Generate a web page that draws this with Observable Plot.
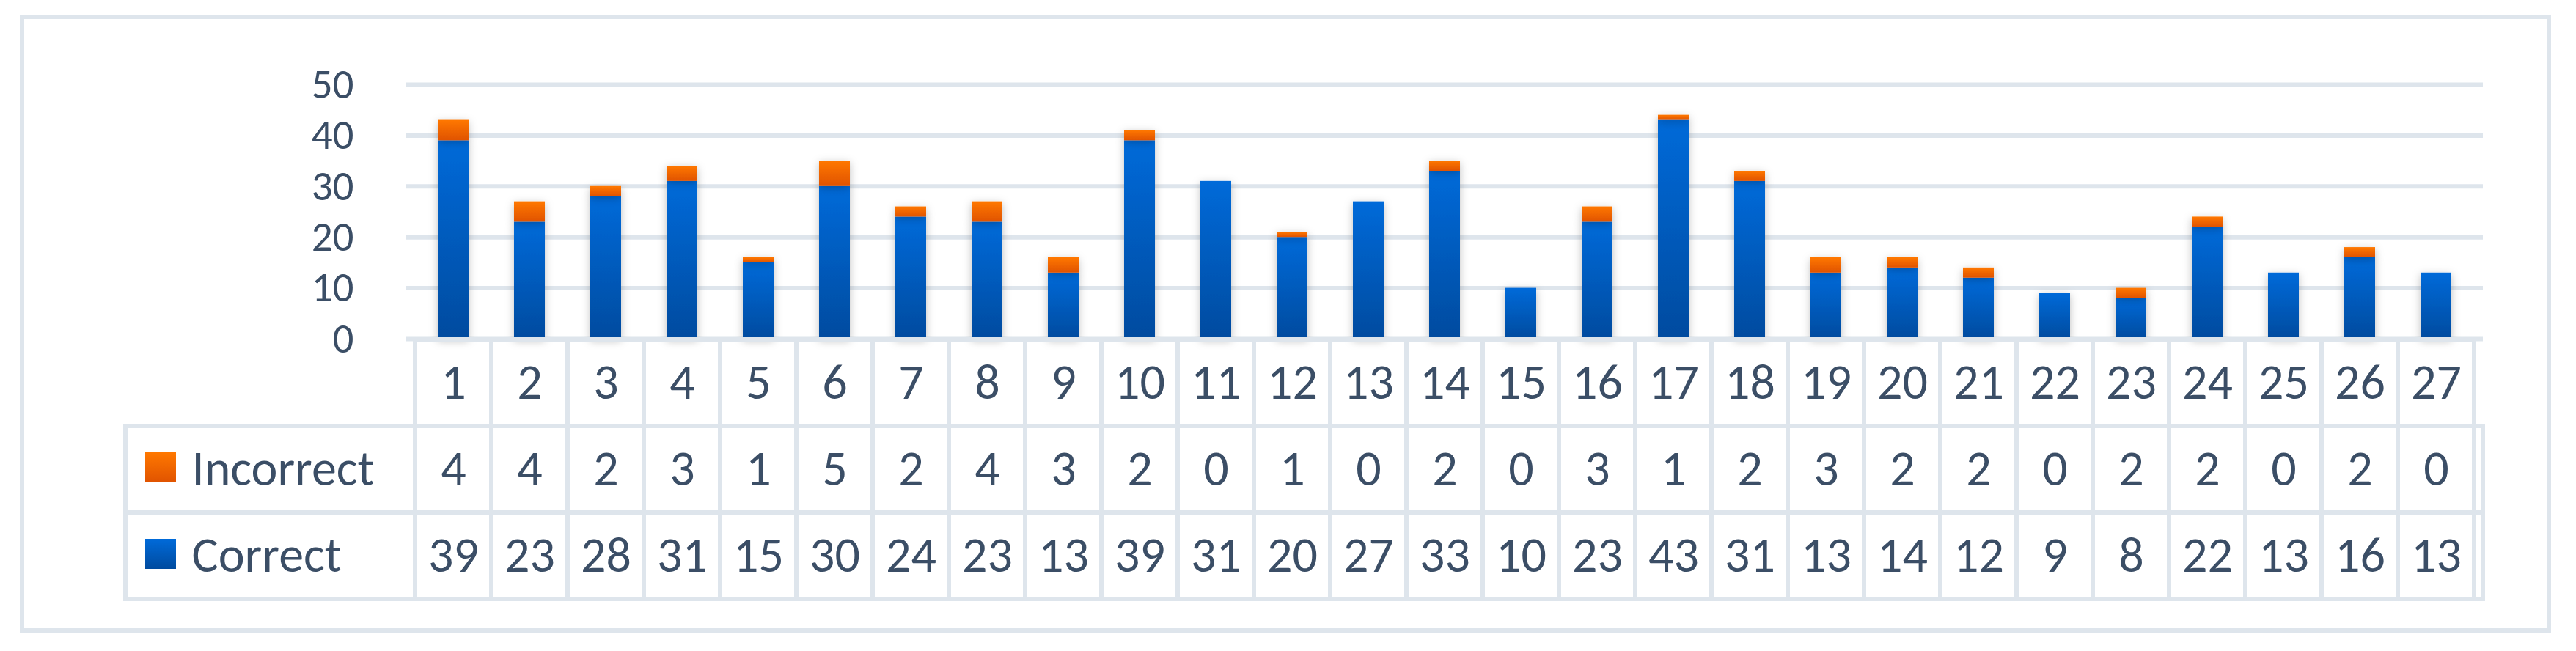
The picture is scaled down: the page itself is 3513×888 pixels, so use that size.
<!DOCTYPE html>
<html>
<head>
<meta charset="utf-8">
<script src="https://cdn.jsdelivr.net/npm/d3@7"></script>
<script src="https://cdn.jsdelivr.net/npm/@observablehq/plot@0.6"></script>
<style>
  html, body { margin: 0; padding: 0; background: #ffffff; }
  #wrap { position: relative; width: 3513px; height: 888px; overflow: hidden; background: #ffffff; }
  #wrap svg { position: absolute; left: 0; top: 0; }
  #frame { position: absolute; left: 27px; top: 20px; width: 3452px; height: 843px; box-sizing: border-box; border: 6px solid #dee5ec; }
</style>
</head>
<body>
<div id="wrap"><div id="frame"></div></div>
<script>
// ---- data ----
const questions = ["1","2","3","4","5","6","7","8","9","10","11","12","13","14","15","16","17","18","19","20","21","22","23","24","25","26","27"];
const correct   = [39,23,28,31,15,30,24,23,13,39,31,20,27,33,10,23,43,31,13,14,12,9,8,22,13,16,13];
const incorrect = [4,4,2,3,1,5,2,4,3,2,0,1,0,2,0,3,1,2,3,2,2,0,2,2,0,2,0];
const yTicks = [0,10,20,30,40,50];
const seriesNames = ["Incorrect","Correct"];
const headerRow = "n";

// ---- styling ----
const FONT = "Carlito, Lato, 'Noto Sans', sans-serif";
const TEXT = "#3b4e66";
const GRID = "#dee5ec";
const FS_TICK = 57;
const FS = 68;

const rows = questions.map((q, i) => ({q, correct: correct[i], incorrect: incorrect[i]}));
const cells = [];
questions.forEach((q, i) => {
  cells.push({q, row: headerRow, label: q});
  cells.push({q, row: "Incorrect", label: String(incorrect[i])});
  cells.push({q, row: "Correct", label: String(correct[i])});
});

const W = 3513, H = 888;
const mL = 554, mR = 127;

// ---- bar chart ----
const chart = Plot.plot({
  width: W, height: H,
  marginTop: 115, marginBottom: 426, marginLeft: mL, marginRight: mR,
  style: `background: transparent; font-family: ${FONT}; font-size: ${FS_TICK}px; color: ${TEXT};`,
  x: {type: "band", domain: questions, paddingInner: 0.6, paddingOuter: 0.3, axis: null},
  y: {domain: [0, 50], ticks: yTicks, tickSize: 0, tickPadding: 72, label: null, tickFormat: d => String(d)},
  marks: [
    Plot.ruleY(yTicks, {stroke: GRID, strokeWidth: 6}),
    Plot.barY(rows, {x: "q", y1: 0, y2: "correct", fill: "url(#gBlue)"}),
    Plot.barY(rows, {x: "q", y1: "correct", y2: d => d.correct + d.incorrect, fill: "url(#gOrange)"})
  ]
});

const defs = d3.select(chart).insert("defs", ":first-child");
function grad(id, top, bottom) {
  const g = defs.append("linearGradient").attr("id", id)
    .attr("x1", 0).attr("y1", 0).attr("x2", 0).attr("y2", 1);
  g.append("stop").attr("offset", "0%").attr("stop-color", top);
  g.append("stop").attr("offset", "100%").attr("stop-color", bottom);
}
grad("gBlue", "#006ad9", "#004b9f");
grad("gOrange", "#ff7800", "#e05300");
const flt = defs.append("filter").attr("id", "barShadow")
  .attr("x", "-5%").attr("y", "-10%").attr("width", "110%").attr("height", "125%");
flt.append("feDropShadow").attr("dx", 0).attr("dy", 3).attr("stdDeviation", 6)
  .attr("flood-color", "#000").attr("flood-opacity", 0.25);
d3.select(chart).selectAll('g[aria-label="bar"]').attr("filter", "url(#barShadow)");

// ---- data table with legend ----
const table = Plot.plot({
  width: W, height: H,
  marginTop: 462, marginBottom: 70, marginLeft: mL, marginRight: mR,
  style: `background: transparent; font-family: ${FONT}; font-size: ${FS}px; color: ${TEXT};`,
  x: {type: "band", domain: questions, padding: 0, axis: null},
  y: {type: "band", domain: [headerRow, ...seriesNames], padding: 0, axis: null},
  marks: [
    Plot.cell(seriesNames, {y: d => d, inset: 0, insetLeft: -383, stroke: GRID, strokeWidth: 6, fill: "none"}),
    Plot.cell(cells, {x: "q", y: "row", inset: 0, stroke: GRID, strokeWidth: 6, fill: "none"}),
    Plot.cell(["Incorrect"], {y: d => d, insetLeft: -356, insetRight: 3146, insetTop: 36, insetBottom: 41, fill: "url(#gOrange)"}),
    Plot.cell(["Correct"], {y: d => d, insetLeft: -356, insetRight: 3146, insetTop: 36, insetBottom: 41, fill: "url(#gBlue)"}),
    Plot.text(seriesNames, {y: d => d, text: d => d, frameAnchor: "left", dx: -293, textAnchor: "start", fill: TEXT, fontSize: FS}),
    Plot.text(cells, {x: "q", y: "row", text: "label", fill: TEXT, fontSize: FS})
  ]
});

const wrap = document.getElementById("wrap");
wrap.insertBefore(chart, wrap.firstChild);
wrap.appendChild(table);
</script>
</body>
</html>
